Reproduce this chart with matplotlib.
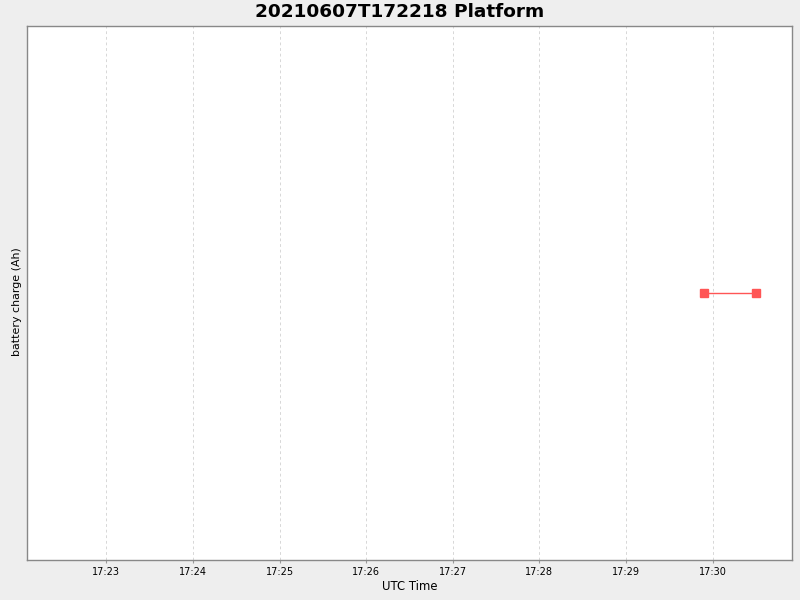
import datetime as dt
import matplotlib
matplotlib.use("Agg")
import matplotlib.pyplot as plt
import matplotlib.dates as mdates

# data
times = [dt.datetime(2021, 6, 7, 17, 29, 54), dt.datetime(2021, 6, 7, 17, 30, 30)]
charge = [0.0, 0.0]
x_start = dt.datetime(2021, 6, 7, 17, 22, 5)
x_end = dt.datetime(2021, 6, 7, 17, 30, 55)

fig = plt.figure(figsize=(8, 6), dpi=100, facecolor="#eeeeee")
ax = fig.add_axes([27 / 800, 40 / 600, 765 / 800, 534 / 600])
ax.set_facecolor("white")

ax.plot(times, charge, color="#ff5555", lw=1, marker="s", ms=6,
        markerfacecolor="#ff5555", markeredgecolor="#ff5555", zorder=3)

ax.set_xlim(x_start, x_end)
ax.set_ylim(-1, 1)
ax.xaxis.set_major_locator(mdates.MinuteLocator())
ax.xaxis.set_major_formatter(mdates.DateFormatter("%H:%M"))
ax.grid(axis="x", color="#d8d8d8", ls=(0, (2.8, 2.8)), lw=0.72)
ax.set_yticks([])
ax.tick_params(axis="x", labelsize=7, length=2, color="#999999", pad=3)

for s in ax.spines.values():
    s.set_color("#888888")
    s.set_linewidth(1)

fig.text(409.5 / 800, 1 - 586 / 600, "UTC Time", fontsize=8.4,
         ha="center", va="center")
fig.text(17.5 / 800, 1 - 302 / 600, "battery charge (Ah)", fontsize=7.9,
         rotation=90, ha="center", va="center")
fig.text(0.5, 1 - 12 / 600, "20210607T172218 Platform", fontsize=13.3,
         fontweight="bold", ha="center", va="center")

fig.savefig("out.png", dpi=100, facecolor=fig.get_facecolor())
